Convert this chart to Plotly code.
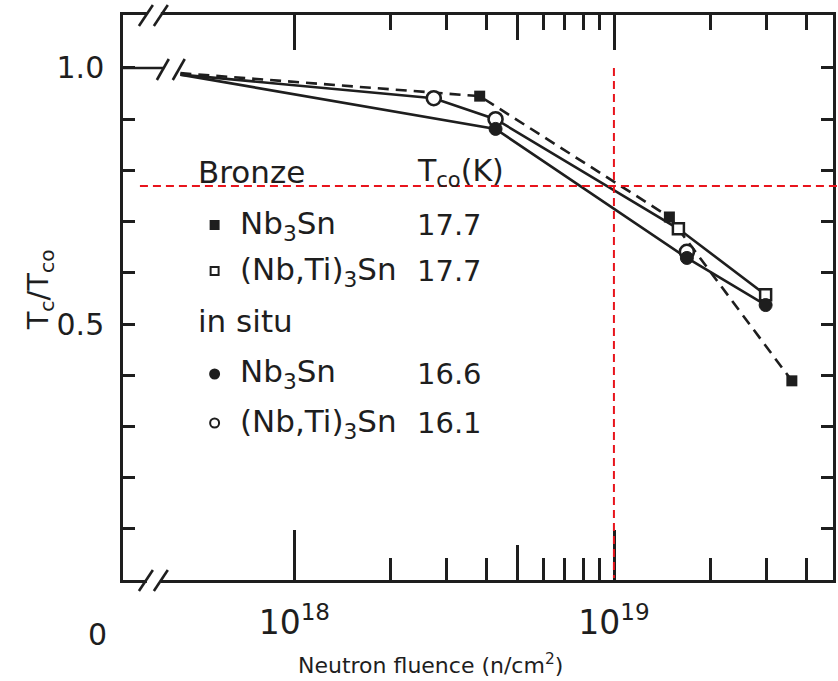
import plotly.graph_objects as go

# ---------------- data ----------------
start_fluence = 4.4e17          # unirradiated reference, drawn at the axis break
start_ratio_dash = 0.99
start_ratio_solid = 0.987

# Bronze Nb3Sn (filled squares), Tco = 17.7 K
bronze_nb3sn_x = [3.8e18, 1.49e19, 3.6e19]
bronze_nb3sn_y = [0.945, 0.709, 0.389]

# Bronze (Nb,Ti)3Sn (open squares), Tco = 17.7 K
bronze_nbti_x = [1.59e19, 2.98e19]
bronze_nbti_y = [0.686, 0.557]

# In situ Nb3Sn (filled circles), Tco = 16.6 K
insitu_nb3sn_x = [4.26e18, 1.69e19, 2.98e19]
insitu_nb3sn_y = [0.881, 0.629, 0.537]

# In situ (Nb,Ti)3Sn (open circles), Tco = 16.1 K
insitu_nbti_x = [2.73e18, 4.26e18, 1.69e19]
insitu_nbti_y = [0.941, 0.900, 0.641]

# drawn curves
dash_curve_x = [start_fluence] + bronze_nb3sn_x
dash_curve_y = [start_ratio_dash] + bronze_nb3sn_y
upper_curve_x = [start_fluence, 2.73e18, 4.26e18, 1.59e19, 2.98e19]
upper_curve_y = [start_ratio_solid, 0.941, 0.900, 0.686, 0.557]
lower_curve_x = [start_fluence, 4.26e18, 1.69e19, 2.98e19]
lower_curve_y = [start_ratio_solid, 0.881, 0.629, 0.537]

x_major = [1e18, 1e19]
x_major_text = ["10<sup>18</sup>", "10<sup>19</sup>"]
x_mid = [5e18]
x_minor = [2e18, 3e18, 4e18, 6e18, 7e18, 8e18, 9e18, 2e19, 3e19, 4e19]
y_labelled = [0.5, 1.0]
y_ticktext = ["0.5", "1.0"]
y_minor = [0.1, 0.2, 0.3, 0.4, 0.6, 0.7, 0.8, 0.9]

legend_rows = [
    ("Bronze", None, ""),
    ("Nb<sub>3</sub>Sn", "sq_fill", "17.7"),
    ("(Nb,Ti)<sub>3</sub>Sn", "sq_open", "17.7"),
    ("in situ", None, ""),
    ("Nb<sub>3</sub>Sn", "ci_fill", "16.6"),
    ("(Nb,Ti)<sub>3</sub>Sn", "ci_open", "16.1"),
]

# ---------------- layout geometry ----------------
W, H = 838, 681
L, R, T, B = 123, 836, 15, 580
XR = [17.464, 19.685]
YR = [0, 1.1035]
INK = "#1e1e1e"
FONT = "DejaVu Sans"


def px(x):
    return (x - L) / (R - L)


def py(y):
    return (B - y) / (B - T)


fig = go.Figure()

# curves
fig.add_trace(go.Scatter(x=dash_curve_x, y=dash_curve_y, mode="lines",
                         line=dict(color=INK, width=2.6, dash="11px,7px"),
                         showlegend=False, hoverinfo="skip"))
fig.add_trace(go.Scatter(x=upper_curve_x, y=upper_curve_y, mode="lines",
                         line=dict(color=INK, width=2.6), showlegend=False, hoverinfo="skip"))
fig.add_trace(go.Scatter(x=lower_curve_x, y=lower_curve_y, mode="lines",
                         line=dict(color=INK, width=2.6), showlegend=False, hoverinfo="skip"))

# markers
fig.add_trace(go.Scatter(x=bronze_nb3sn_x, y=bronze_nb3sn_y, mode="markers",
                         marker=dict(symbol="square", size=11, color=INK),
                         name="Bronze Nb3Sn", showlegend=False))
fig.add_trace(go.Scatter(x=bronze_nbti_x, y=bronze_nbti_y, mode="markers",
                         marker=dict(symbol="square", size=11, color="white",
                                     line=dict(color=INK, width=2.5)),
                         name="Bronze (Nb,Ti)3Sn", showlegend=False))
fig.add_trace(go.Scatter(x=insitu_nbti_x, y=insitu_nbti_y, mode="markers",
                         marker=dict(symbol="circle", size=14, color="white",
                                     line=dict(color=INK, width=2.6)),
                         name="in situ (Nb,Ti)3Sn", showlegend=False))
fig.add_trace(go.Scatter(x=insitu_nb3sn_x, y=insitu_nb3sn_y, mode="markers",
                         marker=dict(symbol="circle", size=13, color=INK,
                                     line=dict(color=INK, width=1)),
                         name="in situ Nb3Sn", showlegend=False))

axis_common = dict(type="log", range=XR, showgrid=False, zeroline=False,
                   tickcolor=INK, tickwidth=2.5)

fig.update_layout(
    width=W, height=H,
    margin=dict(l=L, r=W - R, t=T, b=H - B),
    paper_bgcolor="white", plot_bgcolor="white",
    font=dict(family=FONT, color=INK),
    xaxis=dict(**axis_common, showline=True, linecolor=INK, linewidth=2.5,
               ticks="inside", ticklen=50, tickvals=x_major, ticktext=x_major_text,
               tickfont=dict(size=33, family=FONT, color=INK), ticklabelstandoff=12,
               minor=dict(tickvals=x_minor, ticks="inside", ticklen=22,
                          tickcolor=INK, tickwidth=2.5, showgrid=False)),
    xaxis2=dict(**axis_common, overlaying="x", anchor="y", side="bottom",
                showline=False, ticks="inside", ticklen=35, tickvals=x_mid,
                showticklabels=False),
    xaxis3=dict(**axis_common, overlaying="x", anchor="y", side="top",
                showline=True, linecolor=INK, linewidth=2.5,
                ticks="inside", ticklen=35, tickvals=x_major, showticklabels=False,
                minor=dict(tickvals=x_minor, ticks="inside", ticklen=15,
                           tickcolor=INK, tickwidth=2.5, showgrid=False)),
    xaxis4=dict(**axis_common, overlaying="x", anchor="y", side="top",
                showline=False, ticks="inside", ticklen=25, tickvals=x_mid,
                showticklabels=False),
    yaxis=dict(range=YR, showgrid=False, zeroline=False, showline=True,
               linecolor=INK, linewidth=2.5, mirror="ticks",
               ticks="inside", ticklen=12, tickwidth=2.5, tickcolor=INK,
               tickvals=y_labelled, ticktext=y_ticktext,
               tickfont=dict(size=30, family=FONT, color=INK), ticklabelstandoff=10,
               minor=dict(tickvals=y_minor, ticks="inside", ticklen=12,
                          tickcolor=INK, tickwidth=2.5, showgrid=False)),
)

# dummy bindings so the overlay axes are drawn
for ax in ["x2", "x3", "x4"]:
    fig.add_trace(go.Scatter(x=x_major, y=[None, None], xaxis=ax, yaxis="y",
                             mode="markers", showlegend=False, hoverinfo="skip"))

shapes = []
# axis breaks: white gaps then double slashes
for yy in (B, T):
    shapes.append(dict(type="line", xref="paper", yref="paper",
                       x0=px(147), x1=px(161), y0=py(yy), y1=py(yy),
                       line=dict(color="white", width=6)))
    for x0 in (139, 154):
        shapes.append(dict(type="line", xref="paper", yref="paper",
                           x0=px(x0), y0=py(yy + 11), x1=px(x0 + 14), y1=py(yy - 10),
                           line=dict(color=INK, width=2.6)))
# the 1.0 reference line from the axis to the break
shapes.append(dict(type="line", xref="paper", yref="y", x0=0, x1=px(164), y0=1.0, y1=1.0,
                   line=dict(color=INK, width=2.6)))
for x0 in (157, 173):
    shapes.append(dict(type="line", xref="paper", yref="paper",
                       x0=px(x0), y0=py(80), x1=px(x0 + 12), y1=py(59),
                       line=dict(color=INK, width=2.6)))

# red dashed guide lines
shapes.append(dict(type="line", xref="paper", yref="paper", x0=px(140), x1=px(840),
                   y0=py(186), y1=py(186), line=dict(color="#e8141c", width=2, dash="8px,5px")))
shapes.append(dict(type="line", xref="paper", yref="paper", x0=px(616), x1=px(616),
                   y0=py(68), y1=py(578), line=dict(color="#e8141c", width=2, dash="8px,5px")))

# legend symbols
row_y = [172, 225, 271, 321, 374, 423]
for (label, sym, val), yy in zip(legend_rows, row_y):
    if sym is None:
        continue
    cx = 215
    if sym.startswith("sq"):
        r = 4
        shapes.append(dict(type="rect", xref="paper", yref="paper",
                           x0=px(cx - r), x1=px(cx + r), y0=py(yy - r), y1=py(yy + r),
                           fillcolor=INK if sym == "sq_fill" else "white",
                           line=dict(color=INK, width=2)))
    else:
        r = 4.5
        shapes.append(dict(type="circle", xref="paper", yref="paper",
                           x0=px(cx - r), x1=px(cx + r), y0=py(yy - r), y1=py(yy + r),
                           fillcolor=INK if sym == "ci_fill" else "white",
                           line=dict(color=INK, width=2)))
fig.update_layout(shapes=shapes)

ann = []
for (label, sym, val), yy in zip(legend_rows, row_y):
    x0 = 196 if sym is None else 238
    ann.append(dict(text=label, x=px(x0), y=py(yy), xref="paper", yref="paper",
                    xanchor="left", yanchor="middle", showarrow=False,
                    font=dict(size=31, family=FONT, color=INK)))
    if val:
        ann.append(dict(text=val, x=px(416), y=py(yy), xref="paper", yref="paper",
                        xanchor="left", yanchor="middle", showarrow=False,
                        font=dict(size=29, family=FONT, color=INK)))
ann.append(dict(text="T<sub>co</sub>(K)", x=px(416), y=py(172), xref="paper", yref="paper",
                xanchor="left", yanchor="middle", showarrow=False,
                font=dict(size=30, family=FONT, color=INK)))
ann.append(dict(text="0", x=px(97), y=py(634), xref="paper", yref="paper",
                xanchor="center", yanchor="middle", showarrow=False,
                font=dict(size=30, family=FONT, color=INK)))
ann.append(dict(text="T<sub>c</sub>/T<sub>co</sub>", x=px(40), y=py(290), xref="paper",
                yref="paper", xanchor="center", yanchor="middle", textangle=-90,
                showarrow=False, font=dict(size=29, family=FONT, color=INK)))
ann.append(dict(text="Neutron fluence (n/cm<sup>2</sup>)", x=px(432), y=py(664),
                xref="paper", yref="paper", xanchor="center", yanchor="middle",
                showarrow=False, font=dict(size=22, family=FONT, color=INK)))
fig.update_layout(annotations=ann)

fig.write_html("out.html")
